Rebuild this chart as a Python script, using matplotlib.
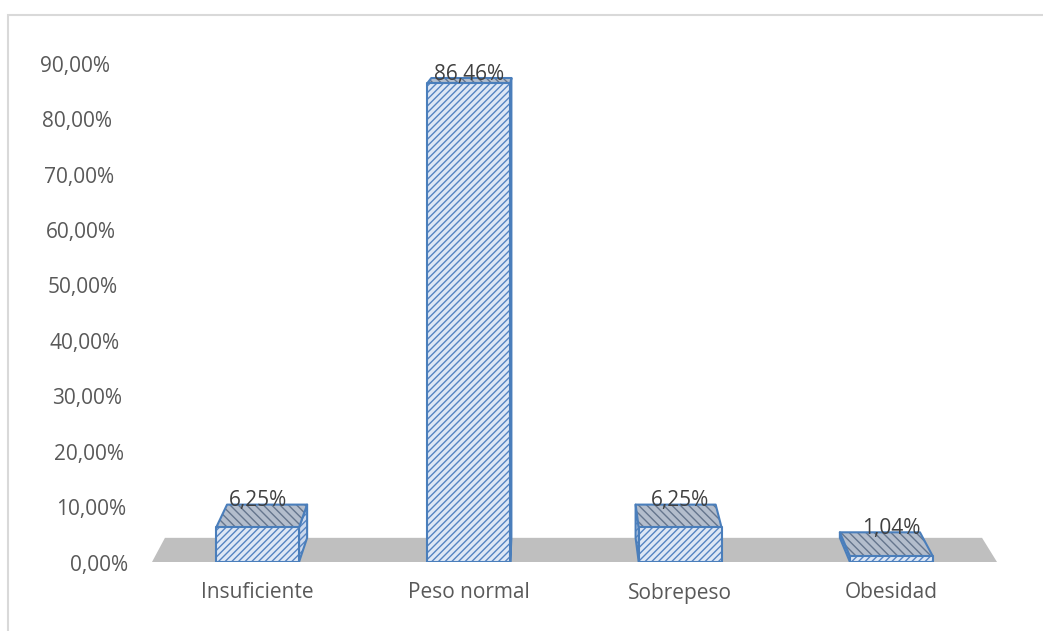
import matplotlib
matplotlib.use("Agg")
import matplotlib.pyplot as plt
from matplotlib.patches import Polygon, Rectangle
from matplotlib.transforms import offset_copy

categories = ["Insuficiente", "Peso normal", "Sobrepeso", "Obesidad"]
values = [6.25, 86.46, 6.25, 1.04]
value_labels = ["6,25%", "86,46%", "6,25%", "1,04%"]
y_ticks = [0, 10, 20, 30, 40, 50, 60, 70, 80, 90]
y_tick_labels = ["0,00%", "10,00%", "20,00%", "30,00%", "40,00%",
                 "50,00%", "60,00%", "70,00%", "80,00%", "90,00%"]

# fake 3d: back plane is the front plane pulled toward a vanishing point
VX, VY = 1.356, 109.0
SX, SY = 0.967, 0.96
HALF = 0.196

TEXT = "#595959"
EDGE = "#4A7EBB"
FRONT_FILL = "#DDE7F5"
FRONT_HATCH = "#5584C2"
TOP_FILL = "#B3BDCC"
TOP_HATCH = "#65758D"
FLOOR = "#BFBFBF"

plt.rcParams["font.family"] = ["Open Sans", "DejaVu Sans"]
plt.rcParams["hatch.linewidth"] = 1.0


def back(x, y):
    return VX + (x - VX) * SX, VY + (y - VY) * SY


def face(ax, pts, fill, hatch, hatch_color, z):
    ax.add_patch(Polygon(pts, closed=True, facecolor=fill, edgecolor=hatch_color,
                         hatch=hatch, linewidth=0, zorder=z))
    ax.add_patch(Polygon(pts, closed=True, facecolor="none", edgecolor=EDGE,
                         linewidth=1.5, joinstyle="round", zorder=z + 0.1))


fig = plt.figure(figsize=(10.43, 6.31), dpi=100)
fig.patches.append(Rectangle((8 / 1043, -0.1), 1.2, (631 - 15) / 631 + 0.1,
                             transform=fig.transFigure, facecolor="none",
                             edgecolor="#D9D9D9", linewidth=1.5))

ax = fig.add_axes([152 / 1043, 69 / 631, 845 / 1043, 554 / 631])
ax.set_xlim(-0.5, 3.5)
ax.set_ylim(0, 100)
ax.axis("off")

# floor
x0, x1 = -0.5, 3.5
floor = [(x0, 0), (x1, 0), back(x1, 0), back(x0, 0)]
ax.add_patch(Polygon(floor, closed=True, facecolor=FLOOR, edgecolor="none", zorder=1))

for i, (v, lab) in enumerate(zip(values, value_labels)):
    l, r = i - HALF, i + HALF
    # visible side face
    sx = r if i < VX else l
    side = [(sx, 0), (sx, v), back(sx, v), back(sx, 0)]
    face(ax, side, "#C9D7EC", "/////", FRONT_HATCH, 2)
    top = [(l, v), (r, v), back(r, v), back(l, v)]
    face(ax, top, TOP_FILL, "\\\\\\\\", TOP_HATCH, 3)
    front = [(l, 0), (r, 0), (r, v), (l, v)]
    face(ax, front, FRONT_FILL, "/////", FRONT_HATCH, 4)

    bx, by = back(i, v)
    tr = offset_copy(ax.transData, fig=fig, x=0, y=4, units="dots")
    ax.text(i, by, lab, transform=tr, ha="center", va="center",
            fontsize=15, color="#404040", zorder=6)

# value axis labels follow the slanted left edge
for t, tl in zip(y_ticks, y_tick_labels):
    px = 128 - t * 0.2
    tr = offset_copy(ax.transData, fig=fig, x=0, y=-3, units="dots")
    ax.text((px - 152) / 211.25 - 0.5, t, tl, transform=tr, ha="right",
            va="center", fontsize=15, color=TEXT, clip_on=False)

for i, c in enumerate(categories):
    tr = offset_copy(ax.transData, fig=fig, x=0, y=-31, units="dots")
    ax.text(i, 0, c, transform=tr, ha="center", va="center",
            fontsize=15, color=TEXT, clip_on=False)

fig.savefig("out.png", dpi=100, facecolor="white")
